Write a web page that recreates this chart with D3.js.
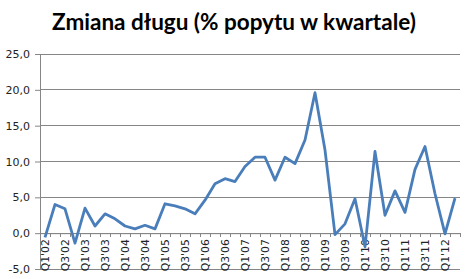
<!DOCTYPE html>
<html><head><meta charset="utf-8">
<script src="https://cdn.jsdelivr.net/npm/d3@7"></script>
<style>body{margin:0;background:#fff}svg{display:block}</style>
</head><body>
<svg id="c" width="473" height="279"></svg>
<script>
const title = "Zmiana długu (% popytu w kwartale)";
const years = ["02","03","04","05","06","07","08","09","10","11","12"];
const categories = [];
years.forEach(y => { for (let q = 1; q <= 4; q++) categories.push("Q" + q + "'" + y); });
categories.splice(42);
const values = [-0.6,4.0,3.4,-1.4,3.5,1.0,2.7,2.0,1.0,0.6,1.1,0.6,
  4.1,3.8,3.4,2.7,4.6,6.9,7.6,7.2,9.3,10.6,10.6,7.4,10.6,9.7,13.0,19.6,
  11.6,-0.2,1.3,4.8,-1.9,11.4,2.5,5.9,2.9,8.9,12.1,5.5,-0.1,4.9];
const yTicks = [-5,0,5,10,15,20,25];

(function(){
const svg = d3.select("#c");
const mLeft = 40, mRight = 460, mTop = 54, mBottom = 269;
const x = d3.scaleBand().domain(categories).range([mLeft, mRight]);
const y = d3.scaleLinear().domain([-5, 25]).range([mBottom, mTop]);
const fmt = d => d.toFixed(1).replace(".", ",");

svg.append("text").attr("x", 234).attr("y", 30).attr("text-anchor", "middle")
  .attr("font-family", "Lato, 'Open Sans', sans-serif").attr("font-weight", "bold")
  .attr("font-size", 22.5).attr("fill", "#000").text(title);

// gridlines
svg.append("g").selectAll("line").data(yTicks).join("line")
  .attr("x1", mLeft).attr("x2", mRight).attr("y1", d => y(d)).attr("y2", d => y(d))
  .attr("stroke", "#868686").attr("stroke-width", 1).attr("shape-rendering", "crispEdges");

// y axis
const ya = svg.append("g").attr("transform", `translate(${mLeft},0)`)
  .call(d3.axisLeft(y).tickValues(yTicks).tickFormat(fmt).tickSize(5).tickPadding(5));
ya.select(".domain").attr("stroke", "#868686");
ya.selectAll(".tick line").attr("stroke", "#868686");
ya.selectAll("text").attr("font-family", "'DejaVu Sans', Verdana, sans-serif")
  .attr("font-size", 11).attr("fill", "#222");

// x axis at zero
const xa = svg.append("g").attr("transform", `translate(0,${y(0)})`)
  .call(d3.axisBottom(x).tickValues(categories).tickSize(0).tickFormat(""));
xa.select(".domain").attr("stroke", "#868686");
xa.append("g").selectAll("line").data(categories.concat(["end"])).join("line")
  .attr("x1", (d, i) => mLeft + i * x.step()).attr("x2", (d, i) => mLeft + i * x.step())
  .attr("y1", 0).attr("y2", 4).attr("stroke", "#868686").attr("shape-rendering", "crispEdges");
xa.append("g").selectAll("text").data(categories.filter((d, i) => i % 2 === 0)).join("text")
  .attr("transform", d => `translate(${x(d) + x.bandwidth() / 2},6) rotate(-90)`)
  .attr("text-anchor", "end").attr("dy", "0.35em")
  .attr("font-family", "'DejaVu Sans', Verdana, sans-serif").attr("font-size", 10.8)
  .attr("fill", "#222").text(d => d);

// line
const line = d3.line().x((d, i) => x(categories[i]) + x.bandwidth() / 2).y(d => y(d));
svg.append("path").datum(values).attr("d", line).attr("fill", "none")
  .attr("stroke", "#4a7ebb").attr("stroke-width", 2.8).attr("stroke-linejoin", "round");
})();
</script>
</body></html>
